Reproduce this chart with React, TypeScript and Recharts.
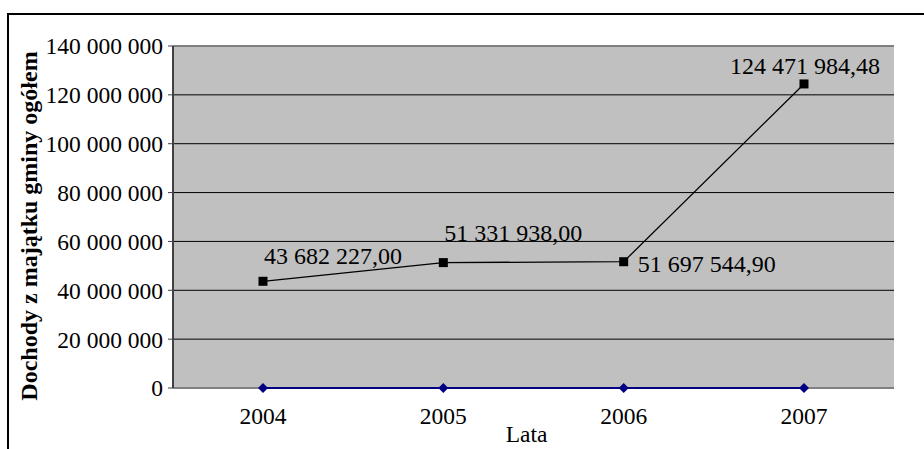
import React from 'react';
import {
  LineChart,
  Line,
  XAxis,
  YAxis,
  CartesianGrid,
  ReferenceLine,
  LabelList,
} from 'recharts';

const years = ['2004', '2005', '2006', '2007'];
const dochody = [43682227.0, 51331938.0, 51697544.9, 124471984.48];
const zero = [0, 0, 0, 0];
const yTicks = [0, 20000000, 40000000, 60000000, 80000000, 100000000, 120000000, 140000000];

const data = years.map((y, i) => ({ year: y, dochody: dochody[i], zero: zero[i] }));

const FONT = '"Liberation Serif", "Times New Roman", serif';

const fmtInt = (n: number) => String(Math.round(n)).replace(/\B(?=(\d{3})+(?!\d))/g, ' ');
const fmtDec = (n: number) => {
  const [a, b] = n.toFixed(2).split('.');
  return a.replace(/\B(?=(\d{3})+(?!\d))/g, ' ') + ',' + b;
};

// label placement (dx, dy from marker, anchor)
const labelPlacement = [
  { dx: 1, dy: -17, anchor: 'start' },
  { dx: 1, dy: -22, anchor: 'start' },
  { dx: 14, dy: 10, anchor: 'start' },
  { dx: 1, dy: -10, anchor: 'middle' },
];

const SquareDot = (props: any) => {
  const { cx, cy } = props;
  if (cx == null || cy == null) return null;
  return <rect x={cx - 4.5} y={cy - 4.5} width={9} height={9} fill="#000" />;
};

const DiamondDot = (props: any) => {
  const { cx, cy } = props;
  if (cx == null || cy == null) return null;
  const r = 5;
  return (
    <polygon
      points={`${cx},${cy - r} ${cx + r},${cy} ${cx},${cy + r} ${cx - r},${cy}`}
      fill="#000080"
    />
  );
};

const ValueLabel = (props: any) => {
  const { x, y, value, index } = props;
  const p = labelPlacement[index] || { dx: 0, dy: -10, anchor: 'middle' };
  return (
    <text
      x={x + p.dx}
      y={y + p.dy}
      textAnchor={p.anchor}
      style={{ fontFamily: FONT, fontSize: 24 }}
      fill="#000"
    >
      {fmtDec(Number(value))}
    </text>
  );
};

const YTick = (props: any) => {
  const { x, y, payload } = props;
  return (
    <text
      x={x}
      y={y}
      dy="0.36em"
      textAnchor="end"
      style={{ fontFamily: FONT, fontSize: 23.5 }}
      fill="#000"
    >
      {fmtInt(Number(payload.value))}
    </text>
  );
};

const XTick = (props: any) => {
  const { x, y, payload } = props;
  return (
    <text
      x={x}
      y={y}
      dy="0.71em"
      textAnchor="middle"
      style={{ fontFamily: FONT, fontSize: 23.5 }}
      fill="#000"
    >
      {payload.value}
    </text>
  );
};

export default function App() {
  return (
    <div
      style={{
        position: 'absolute',
        left: 0,
        top: 0,
        width: 924,
        height: 449,
        overflow: 'hidden',
        background: '#fff',
        fontFamily: FONT,
      }}
    >
      <div
        style={{
          position: 'absolute',
          left: 7,
          top: 13,
          width: 930,
          height: 460,
          borderTop: '2px solid #000',
          borderLeft: '2px solid #000',
        }}
      />
      <div style={{ position: 'absolute', left: 0, top: 0 }}>
        <LineChart
          width={924}
          height={449}
          data={data}
          margin={{ top: 46, right: 30, bottom: 0, left: 0 }}
          style={{ fontFamily: FONT }}
        >
          <CartesianGrid
            horizontal
            vertical={false}
            fill="#C0C0C0"
            stroke="#000"
            strokeWidth={1}
            fillOpacity={1}
          />
          <XAxis
            dataKey="year"
            height={61}
            padding={{ left: 90, right: 90 }}
            axisLine={false}
            tickLine={false}
            tickSize={0}
            tickMargin={19}
            tick={<XTick />}
            interval={0}
            label={{
              content: (p: any) => {
                const vb = p.viewBox || {};
                return (
                  <text
                    x={vb.x + vb.width / 2 - 7}
                    y={vb.y + 54}
                    textAnchor="middle"
                    style={{ fontFamily: FONT, fontSize: 23.5 }}
                    fill="#000"
                  >
                    Lata
                  </text>
                );
              },
            }}
          />
          <YAxis
            width={173}
            domain={[0, 140000000]}
            ticks={yTicks}
            interval={0}
            axisLine={{ stroke: '#404040', strokeWidth: 2 }}
            tickLine={{ stroke: '#404040' }}
            tickSize={5}
            tickMargin={5}
            tick={<YTick />}
            label={{
              content: (p: any) => {
                const vb = p.viewBox || {};
                const cx = vb.x + 29;
                const cy = vb.y + vb.height / 2 + 9;
                return (
                  <text
                    x={cx}
                    y={cy}
                    transform={`rotate(-90, ${cx}, ${cy})`}
                    textAnchor="middle"
                    dominantBaseline="central"
                    style={{ fontFamily: FONT, fontSize: 24, fontWeight: 'bold' }}
                    fill="#000"
                  >
                    Dochody z majątku gminy ogółem
                  </text>
                );
              },
            }}
          />
          <YAxis
            yAxisId="right"
            orientation="right"
            width={0}
            domain={[0, 140000000]}
            tick={false}
            tickLine={false}
            axisLine={{ stroke: '#808080', strokeWidth: 2 }}
          />
          <ReferenceLine y={140000000} stroke="#808080" strokeWidth={2} />
          <ReferenceLine y={0} stroke="#808080" strokeWidth={2} />
          <Line
            dataKey="zero"
            stroke="#000080"
            strokeWidth={2}
            dot={<DiamondDot />}
            activeDot={false}
            isAnimationActive={false}
          />
          <Line
            dataKey="dochody"
            stroke="#000"
            strokeWidth={1.3}
            dot={<SquareDot />}
            activeDot={false}
            isAnimationActive={false}
          >
            <LabelList dataKey="dochody" content={<ValueLabel />} />
          </Line>
        </LineChart>
      </div>
    </div>
  );
}
